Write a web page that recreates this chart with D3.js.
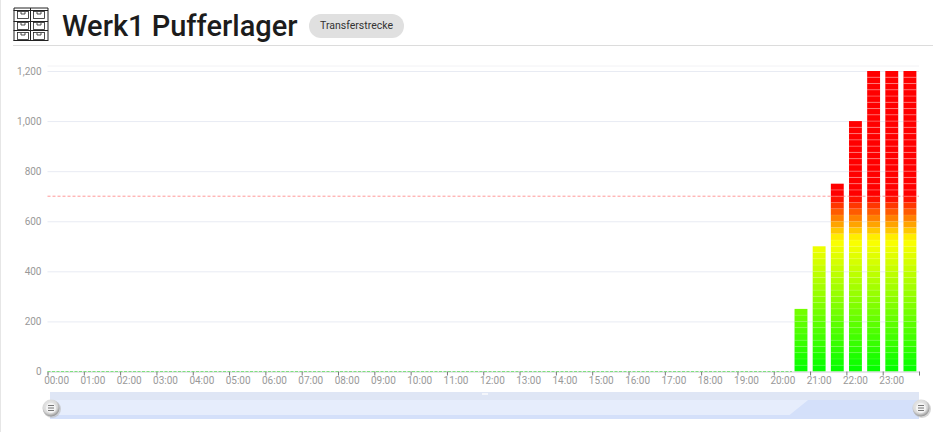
<!DOCTYPE html>
<html><head><meta charset="utf-8">
<script src="https://cdn.jsdelivr.net/npm/d3@7"></script>
<style>
html,body{margin:0;padding:0;background:#fff}
svg{display:block;font-family:Roboto,sans-serif}
</style></head><body>
<svg id="c" width="933" height="432"></svg>
<script>
const title = "Werk1 Pufferlager";
const tag = "Transferstrecke";
const hourLabels = d3.range(24).map(h => String(h).padStart(2,"0")+":00");
const slots = d3.range(48).map(i => String(Math.floor(i/2)).padStart(2,"0")+(i%2?":30":":00"));
const values = [0,0,0,0,0,0,0,0,0,0,0,0,0,0,0,0,0,0,0,0,0,0,0,0,
                0,0,0,0,0,0,0,0,0,0,0,0,0,0,0,0,0,250,500,750,1000,1200,1200,1200];
const yTicks = [0,200,400,600,800,1000,1200];
const threshold = 700;
const segmentSize = 25;
const colorStops = [0,525,700];
const colorRange = ["#00ff00","#ffff00","#ff0000"];
const shadow = [0,0,0,0,0,0,0,0,0,0,0,0,0,0,0,0,0,0,0,0,0,0,0,0,
                0,0,0,0,0,0,0,0,0,0,0,0,0,0,0,0,0,1,1,1,1,1,1,1];

const svg = d3.select("#c");
const L=47.5,R=919,B=371.5,T=66;
const y = d3.scaleLinear().domain([0,1220]).range([B,T]);
const x = d3.scaleBand().domain(slots).range([L,R]).paddingInner(0.29).paddingOuter(0.145);
const color = d3.scaleLinear().domain(colorStops).range(colorRange).clamp(true);

// page frame
svg.append("rect").attr("x",0).attr("y",0).attr("width",1).attr("height",432).attr("fill","#e6e6e6");
svg.append("rect").attr("x",13).attr("y",45).attr("width",920).attr("height",1).attr("fill","#dcdcdc");

// icon
const ic = svg.append("g").attr("fill","none").attr("stroke","#222").attr("stroke-width",1);
[10,21,30,40].forEach(v=>ic.append("path").attr("d",`M13.5 ${v}.5H48`));
["M14 8V41","M30.5 8V41","M48 8V41","M14 8H48"].forEach(d=>ic.append("path").attr("d",d));
[[17,11],[33,11],[17,22],[33,22],[17,32],[33,32]].forEach(([a,b])=>{
  ic.append("rect").attr("x",a+.5).attr("y",b+.5).attr("width",11).attr("height",7).attr("stroke-width",.8);
  ic.append("path").attr("d",`M${a+4} ${b+1}v2h4v-2`).attr("stroke-width",.8);
});

// header
svg.append("text").attr("x",62).attr("y",36).attr("font-size",29).attr("font-weight",500).attr("fill","#1c1c1c").text(title);
svg.append("rect").attr("x",309).attr("y",14).attr("width",95).attr("height",24).attr("rx",12).attr("fill","#e0e0e0");
svg.append("text").attr("x",356.5).attr("y",29).attr("text-anchor","middle").attr("font-size",10.5).attr("fill","#333").text(tag);

// y axis + grid
const ya = svg.append("g").attr("transform",`translate(${L},0)`)
  .call(d3.axisLeft(y).tickValues(yTicks).tickFormat(d3.format(",")).tickSize(-(R-L)).tickPadding(6));
ya.select(".domain").remove();
ya.selectAll("line").attr("stroke","#e8ebf3");
ya.selectAll("text").attr("font-size",10).attr("fill","#999").attr("font-family","Roboto");
svg.append("line").attr("x1",L).attr("x2",R).attr("y1",y(1220)).attr("y2",y(1220)).attr("stroke","#f2f2f5");

// threshold
svg.append("line").attr("x1",L).attr("x2",R).attr("y1",y(threshold)).attr("y2",y(threshold))
  .attr("stroke","#ff9a9a").attr("stroke-dasharray","3 2");

// bars: pictorial segments
const bars = svg.append("g");
slots.forEach((s,i)=>{
  const v = values[i];
  const segs = d3.range(0,v,segmentSize);
  bars.selectAll(null).data(segs).join("rect")
    .attr("x",x(s)).attr("width",x.bandwidth())
    .attr("y",d=>y(d+segmentSize)).attr("height",d=>y(d)-y(d+segmentSize))
    .attr("fill",d=>color(d+segmentSize/2));
  bars.selectAll(null).data(segs.slice(1)).join("rect")
    .attr("x",x(s)).attr("width",x.bandwidth())
    .attr("y",d=>y(d)-0.5).attr("height",1)
    .attr("fill","#fff").attr("opacity",d=>d>=700?0.3:0.1);
});

// x axis
const xh = d3.scaleLinear().domain([0,24]).range([L,R]);
const xa = svg.append("g").attr("transform",`translate(0,${B})`)
  .call(d3.axisBottom(xh).tickValues(d3.range(0,25)).tickSize(4).tickFormat(""));
xa.select(".domain").attr("stroke","#d8d8d8");
xa.selectAll("line").attr("stroke","#777");
svg.append("line").attr("x1",L).attr("x2",R-7*x.step()).attr("y1",B).attr("y2",B)
  .attr("stroke","#7fe07f").attr("stroke-dasharray","3 1.5");
svg.append("g").selectAll("text").data(hourLabels).join("text")
  .attr("x",d=>x(d)+x.bandwidth()/2).attr("y",384)
  .attr("text-anchor","middle").attr("font-size",10).attr("fill","#999").text(d=>d);

// slider
const sx = d3.scalePoint().domain(slots).range([50,919]);
const sy = d3.scaleLinear().domain([0,1]).range([415,400]);
svg.append("rect").attr("x",50).attr("y",392).attr("width",869).attr("height",27).attr("fill","#dfe6f5");
svg.append("rect").attr("x",50).attr("y",400).attr("width",869).attr("height",19).attr("fill","#e6edfc");
const area = d3.area().x((d,i)=>sx(slots[i])).y0(419).y1(d=>sy(d));
svg.append("path").datum(shadow).attr("d",area).attr("fill","#d4e0fa");
svg.append("rect").attr("x",482).attr("y",393).attr("width",6).attr("height",2).attr("fill","#f4f6fb");
const defs = svg.append("defs");
const g = defs.append("radialGradient").attr("id","hg").attr("cx","45%").attr("cy","40%").attr("r","60%");
g.append("stop").attr("offset","0%").attr("stop-color","#f2f2f2");
g.append("stop").attr("offset","70%").attr("stop-color","#d9d9d9");
g.append("stop").attr("offset","100%").attr("stop-color","#8f8f8f");
[51,921].forEach(cx=>{
  svg.append("circle").attr("cx",cx+1).attr("cy",409).attr("r",9).attr("fill","#bbb").attr("opacity",.6);
  svg.append("circle").attr("cx",cx).attr("cy",408).attr("r",8.5).attr("fill","url(#hg)");
  svg.append("circle").attr("cx",cx).attr("cy",408).attr("r",5).attr("fill","#f4f4f4");
  [405.5,408,410.5].forEach(v=>svg.append("line").attr("x1",cx-3).attr("x2",cx+3).attr("y1",v).attr("y2",v).attr("stroke","#777"));
});
</script></body></html>
